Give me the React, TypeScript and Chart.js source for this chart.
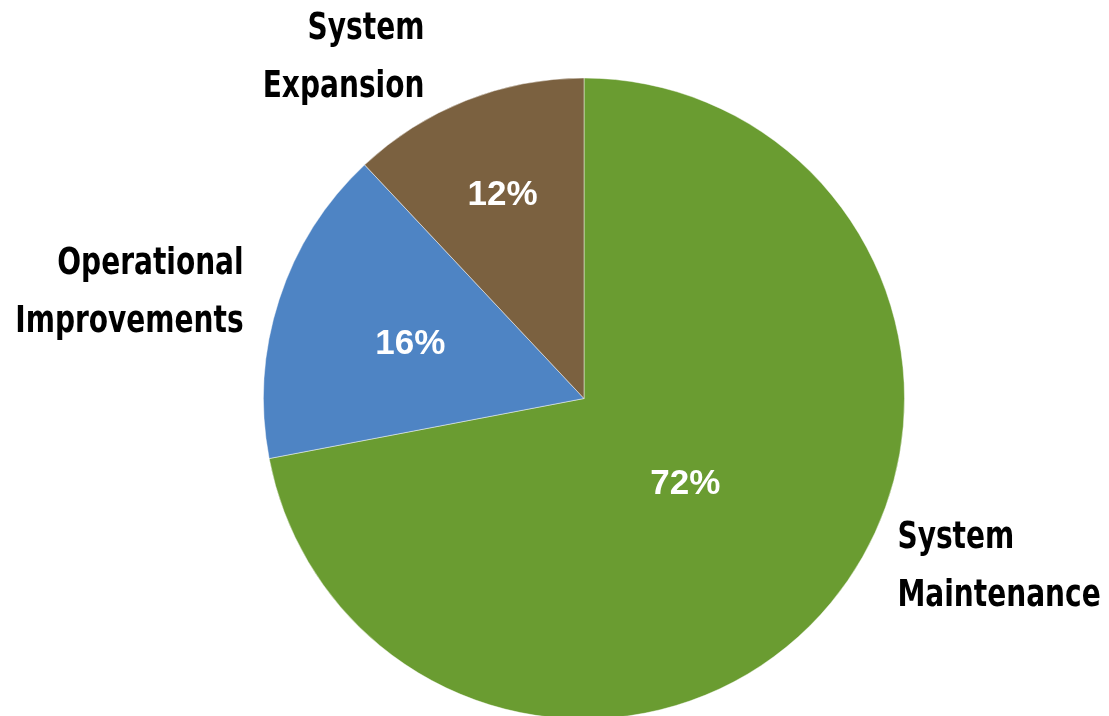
import React, { useEffect, useRef } from "react";
import { Chart, registerables } from "chart.js";

Chart.register(...registerables);

const categories: string[][] = [
  ["System", "Maintenance"],
  ["Operational", "Improvements"],
  ["System", "Expansion"],
];
const values: number[] = [72, 16, 12];
const valueLabels: string[] = ["72%", "16%", "12%"];
const colors: string[] = ["#6A9C31", "#4E84C4", "#7B6140"];

// label placement relative to pie centre, in units of radius
const innerLabelRadius = [0.41, 0.57, 0.69];
const outerLabelAnchors = [
  { dx: 0.978, dy: 0.436, align: "left" as CanvasTextAlign },
  { dx: -1.062, dy: -0.42, align: "right" as CanvasTextAlign },
  { dx: -0.498, dy: -1.152, align: "right" as CanvasTextAlign },
];
const condense = 0.82;

const labelPlugin = {
  id: "pieLabels",
  afterDatasetsDraw(chart: any) {
    const ctx: CanvasRenderingContext2D = chart.ctx;
    const meta = chart.getDatasetMeta(0);
    ctx.save();
    meta.data.forEach((arc: any, i: number) => {
      const { x, y, startAngle, endAngle, outerRadius } = arc.getProps(
        ["x", "y", "startAngle", "endAngle", "outerRadius"],
        true
      );
      const mid = (startAngle + endAngle) / 2;
      const r = outerRadius * innerLabelRadius[i];
      ctx.fillStyle = "#FFFFFF";
      ctx.font = "bold 35px 'Liberation Sans', Arial, sans-serif";
      ctx.textAlign = "center";
      ctx.textBaseline = "middle";
      ctx.fillText(valueLabels[i], x + Math.cos(mid) * r, y + Math.sin(mid) * r + 2);

      const a = outerLabelAnchors[i];
      ctx.fillStyle = "#000000";
      ctx.font = "bold 38px 'DejaVu Sans Condensed', 'DejaVu Sans', sans-serif";
      ctx.textAlign = a.align;
      const lx = x + a.dx * outerRadius;
      const ly = y + a.dy * outerRadius;
      categories[i].forEach((line, j) => {
        ctx.save();
        ctx.translate(lx, ly + j * 58);
        ctx.scale(condense, 1);
        ctx.fillText(line, 0, 0);
        ctx.restore();
      });
    });
    ctx.restore();
  },
};

export default function App() {
  const ref = useRef<HTMLCanvasElement>(null);
  useEffect(() => {
    if (!ref.current) return;
    const chart = new Chart(ref.current, {
      type: "pie",
      data: {
        labels: categories.map((c) => c.join(" ")),
        datasets: [
          {
            data: values,
            backgroundColor: colors,
            borderColor: "rgba(255,255,255,0.45)",
            borderWidth: 1,
          },
        ],
      },
      options: {
        responsive: false,
        animation: false,
        layout: { padding: { top: 77, left: 263, right: 204, bottom: 20 } },
        plugins: {
          legend: { display: false },
          tooltip: { enabled: false },
        },
      },
      plugins: [labelPlugin],
    });
    return () => chart.destroy();
  }, []);
  return (
    <div
      style={{
        position: "fixed",
        left: 0,
        top: 0,
        width: 1109,
        height: 716,
        overflow: "hidden",
        background: "#FFFFFF",
      }}
    >
      <canvas ref={ref} width={1109} height={740} style={{ display: "block" }} />
    </div>
  );
}
